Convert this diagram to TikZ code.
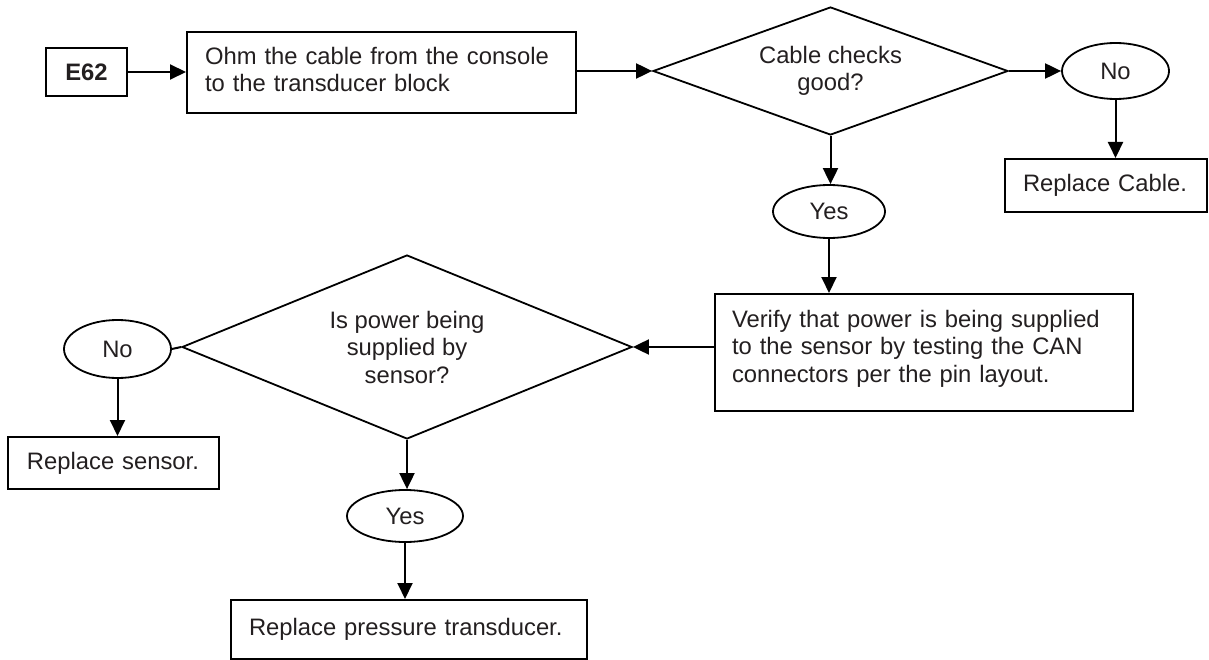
\documentclass[tikz,border=0pt]{standalone}
\usepackage{fontspec}
\setmainfont{Liberation Sans}
\usetikzlibrary{shapes.geometric,arrows.meta}
\definecolor{txt}{HTML}{231F20}
\tikzset{
  base/.style={draw=black, text=txt, font=\fontsize{23.8}{27.5}\selectfont, inner sep=0pt},
  box/.style={base, rectangle, line width=2pt, align=left},
  dia/.style={base, diamond, line width=1.8pt, align=center},
  oval/.style={base, ellipse, line width=1.8pt},
  conn/.style={line width=2pt, draw=black},
  arr/.style={conn, -{Triangle[length=16pt,width=15pt]}}
}
\begin{document}
\begin{tikzpicture}[x=1pt,y=-1pt]
\useasboundingbox (0,0) rectangle (1209,660);
% nodes
\node[box, minimum width=81pt, minimum height=48pt, align=center, font=\fontsize{23.8}{27.5}\selectfont\bfseries] (e62) at (86.5,72) {E62};
\node[box, minimum width=389pt, minimum height=81pt, text width=353pt, text height=17pt, text depth=33pt] (ohm) at (381.5,72.5) {Ohm the cable from the console\\to the transducer block};
\node[dia, minimum width=355pt, minimum height=128pt, aspect=2.77] (d1) at (830.5,71) {Cable checks\\good?};
\node[oval, minimum width=107pt, minimum height=56pt] (no1) at (1115.5,71) {No};
\node[box, minimum width=202pt, minimum height=53pt, text width=166pt] (rc) at (1106,185.5) {Replace Cable.};
\node[oval, minimum width=112pt, minimum height=53pt] (yes1) at (829,211.5) {Yes};
\node[box, minimum width=418pt, minimum height=117pt, text width=384pt, text height=17pt, text depth=68pt] (ver) at (924,352.5) {Verify that power is being supplied\\to the sensor by testing the CAN\\connectors per the pin layout.};
\node[dia, minimum width=450pt, minimum height=184pt, aspect=2.45] (d2) at (407,347) {Is power being\\supplied by\\sensor?};
\node[oval, minimum width=107pt, minimum height=58pt] (no2) at (117.5,349) {No};
\node[box, minimum width=211pt, minimum height=52pt, text width=173pt] (rs) at (113.5,463) {Replace sensor.};
\node[oval, minimum width=116pt, minimum height=52pt] (yes2) at (405,516) {Yes};
\node[box, minimum width=356pt, minimum height=59pt, text width=320pt] (rp) at (409,629.5) {Replace pressure transducer.};
% connectors
\draw[arr] (e62.east) -- (ohm.west |- e62.east);
\draw[arr] (ohm.east |- d1.west) -- (d1.west);
\draw[arr] (d1.east) -- (no1.west);
\draw[arr] (no1.south) -- (no1.south |- rc.north);
\draw[arr] (d1.south) -- (d1.south |- yes1.north);
\draw[arr] (yes1.south) -- (yes1.south |- ver.north);
\draw[arr] (ver.west |- d2.east) -- (d2.east);
\draw[conn] (d2.west) -- (no2.east);
\draw[arr] (no2.south) -- (no2.south |- rs.north);
\draw[arr] (d2.south) -- (d2.south |- yes2.north);
\draw[arr] (yes2.south) -- (yes2.south |- rp.north);
\end{tikzpicture}
\end{document}
